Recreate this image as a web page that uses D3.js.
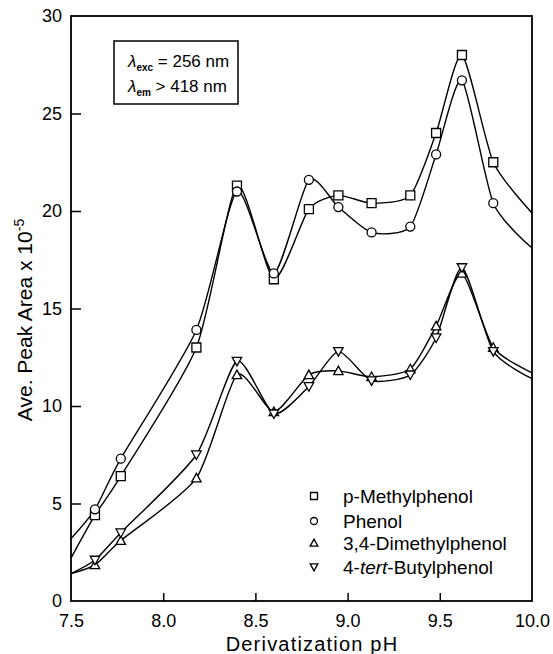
<!DOCTYPE html>
<html>
<head>
<meta charset="utf-8">
<script src="https://cdn.jsdelivr.net/npm/d3@7"></script>
<style>
	body { margin: 0; background: #fff; }
	text { font-family: "Liberation Sans", Arial, sans-serif; fill: #000; }
</style>
</head>
<body>
<script>
/* Data. */
const phValues = [7.63, 7.77, 8.18, 8.40, 8.60, 8.79, 8.95, 9.13, 9.34, 9.48, 9.62, 9.79];
const seriesNames = ['p-Methylphenol', 'Phenol', '3,4-Dimethylphenol', '4-tert-Butylphenol'];
const methylphenol = [4.4, 6.4, 13.0, 21.3, 16.5, 20.1, 20.8, 20.4, 20.8, 24.0, 28.0, 22.5];
const phenol = [4.7, 7.3, 13.9, 21.0, 16.8, 21.6, 20.2, 18.9, 19.2, 22.9, 26.7, 20.4];
const dimethylphenol = [1.85, 3.1, 6.3, 11.6, 9.7, 11.6, 11.8, 11.5, 11.9, 14.1, 16.8, 13.0];
const butylphenol = [2.1, 3.5, 7.5, 12.3, 9.6, 11.0, 12.8, 11.3, 11.6, 13.5, 17.1, 12.8];
/* Where the fitted curves meet the frame at pH 7.5 and 10.0. */
const curveStart = [2.2, 3.2, 1.4, 1.4];
const curveEnd = [19.9, 18.1, 11.7, 11.4];
const xTicks = [7.5, 8.0, 8.5, 9.0, 9.5, 10.0];
const yTicks = [0, 5, 10, 15, 20, 25, 30];
const symbols = ['square', 'circle', 'up', 'down'];

/**
 * Returns the path of a marker centred at 0,0.
 */
function markerPath(kind, s) {
	if (kind === 'square') {
		return 'M' + (-s) + ',' + (-s) + 'h' + 2 * s + 'v' + 2 * s + 'h' + (-2 * s) + 'Z';
	}
	if (kind === 'circle') {
		return d3.arc()({ innerRadius: 0, outerRadius: s, startAngle: 0, endAngle: 2 * Math.PI });
	}
	let h = s * 1.1;
	if (kind === 'up') {
		return 'M0,' + (-h) + 'L' + s * 1.1 + ',' + h * 0.8 + 'L' + (-s * 1.1) + ',' + h * 0.8 + 'Z';
	}
	return 'M0,' + h + 'L' + s * 1.1 + ',' + (-h * 0.8) + 'L' + (-s * 1.1) + ',' + (-h * 0.8) + 'Z';
}

function main() {
	const width = 553, height = 654;
	const margin = { top: 16, right: 21, bottom: 53, left: 71 };

	const svg = d3.select('body').append('svg')
		.attr('width', width)
		.attr('height', height);

	const x = d3.scaleLinear().domain([7.5, 10.0]).range([margin.left, width - margin.right]);
	const y = d3.scaleLinear().domain([0, 30]).range([height - margin.bottom, margin.top]);

	const series = [methylphenol, phenol, dimethylphenol, butylphenol];

	/* Curves. */
	const line = d3.line()
		.x(function(d) { return x(d[0]); })
		.y(function(d) { return y(d[1]); })
		.curve(d3.curveCardinal.tension(0.35));

	series.forEach(function(values, i) {
		let pts = [[7.5, curveStart[i]]]
			.concat(phValues.map(function(ph, j) { return [ph, values[j]]; }))
			.concat([[10.0, curveEnd[i]]]);
		svg.append('path')
			.attr('d', line(pts))
			.attr('fill', 'none')
			.attr('stroke', '#000')
			.attr('stroke-width', 1.4);
	});

	/* Markers. */
	series.forEach(function(values, i) {
		svg.append('g').selectAll('path')
				.data(values)
			.enter().append('path')
				.attr('transform', function(d, j) {
					return 'translate(' + x(phValues[j]) + ',' + y(d) + ')';
				})
				.attr('d', markerPath(symbols[i], i < 2 ? 4.5 : 4.3))
				.attr('fill', '#fff')
				.attr('stroke', '#000')
				.attr('stroke-width', 1.3);
	});

	/* Frame. */
	svg.append('rect')
		.attr('x', x(7.5))
		.attr('y', y(30))
		.attr('width', x(10) - x(7.5))
		.attr('height', y(0) - y(30))
		.attr('fill', 'none')
		.attr('stroke', '#000')
		.attr('stroke-width', 1.8);

	/* Axes with inward ticks. */
	const xAxis = svg.append('g')
		.attr('transform', 'translate(0,' + y(0) + ')')
		.call(d3.axisBottom(x).tickValues(xTicks).tickFormat(d3.format('.1f')).tickSizeInner(-8).tickSizeOuter(0).tickPadding(13));
	const yAxis = svg.append('g')
		.attr('transform', 'translate(' + x(7.5) + ',0)')
		.call(d3.axisLeft(y).tickValues(yTicks).tickFormat(d3.format('d')).tickSizeInner(-10).tickSizeOuter(0).tickPadding(9));
	[xAxis, yAxis].forEach(function(axis) {
		axis.select('.domain').remove();
		axis.selectAll('line').attr('stroke-width', 1.5);
		axis.selectAll('text')
			.attr('font-size', 18)
			.attr('font-family', '"Liberation Sans", Arial, sans-serif');
	});
	xAxis.selectAll('.tick').filter(function(d) { return d === 7.5 || d === 10; }).select('line').remove();
	yAxis.selectAll('.tick').filter(function(d) { return d === 0 || d === 30; }).select('line').remove();

	/* Axis titles. */
	svg.append('text')
		.attr('x', 312)
		.attr('y', 651)
		.attr('text-anchor', 'middle')
		.attr('font-size', 20)
		.attr('letter-spacing', 1.2)
		.text('Derivatization pH');

	const yTitle = svg.append('text')
		.attr('transform', 'translate(32,' + 320 + ') rotate(-90)')
		.attr('text-anchor', 'middle')
		.attr('font-size', 21);
	yTitle.append('tspan').text('Ave. Peak Area x 10');
	yTitle.append('tspan').attr('dy', -8).attr('font-size', 14).text('-5');

	/* Inset box with wavelengths. */
	svg.append('rect')
		.attr('x', 114).attr('y', 41)
		.attr('width', 124).attr('height', 63)
		.attr('fill', '#fff')
		.attr('stroke', '#000')
		.attr('stroke-width', 1.5);
	const rows = [['exc', ' = 256 nm'], ['em', ' > 418 nm']];
	rows.forEach(function(r, i) {
		let t = svg.append('text')
			.attr('x', 128)
			.attr('y', 67 + i * 25)
			.attr('font-size', 17);
		t.append('tspan').attr('font-style', 'italic').text('\u03bb');
		t.append('tspan').attr('dy', 4).attr('font-size', 10).attr('font-weight', 'bold').text(r[0]);
		t.append('tspan').attr('dy', -4).text(r[1]);
	});

	/* Legend. */
	const legend = svg.append('g');
	const legendY = [496, 521, 543, 567];
	seriesNames.forEach(function(name, i) {
		let yy = legendY[i];
		legend.append('path')
			.attr('transform', 'translate(314,' + yy + ')')
			.attr('d', markerPath(symbols[i], 3.5))
			.attr('fill', '#fff')
			.attr('stroke', '#000')
			.attr('stroke-width', 1.3);
		let t = legend.append('text')
			.attr('x', 343)
			.attr('y', yy + 7)
			.attr('font-size', 19);
		if (name.indexOf('tert') >= 0) {
			t.append('tspan').text('4-');
			t.append('tspan').attr('font-style', 'italic').text('tert');
			t.append('tspan').text('-Butylphenol');
		} else {
			t.text(name);
		}
	});
}

window.onload = function() {
	main();
};
</script>
</body>
</html>
